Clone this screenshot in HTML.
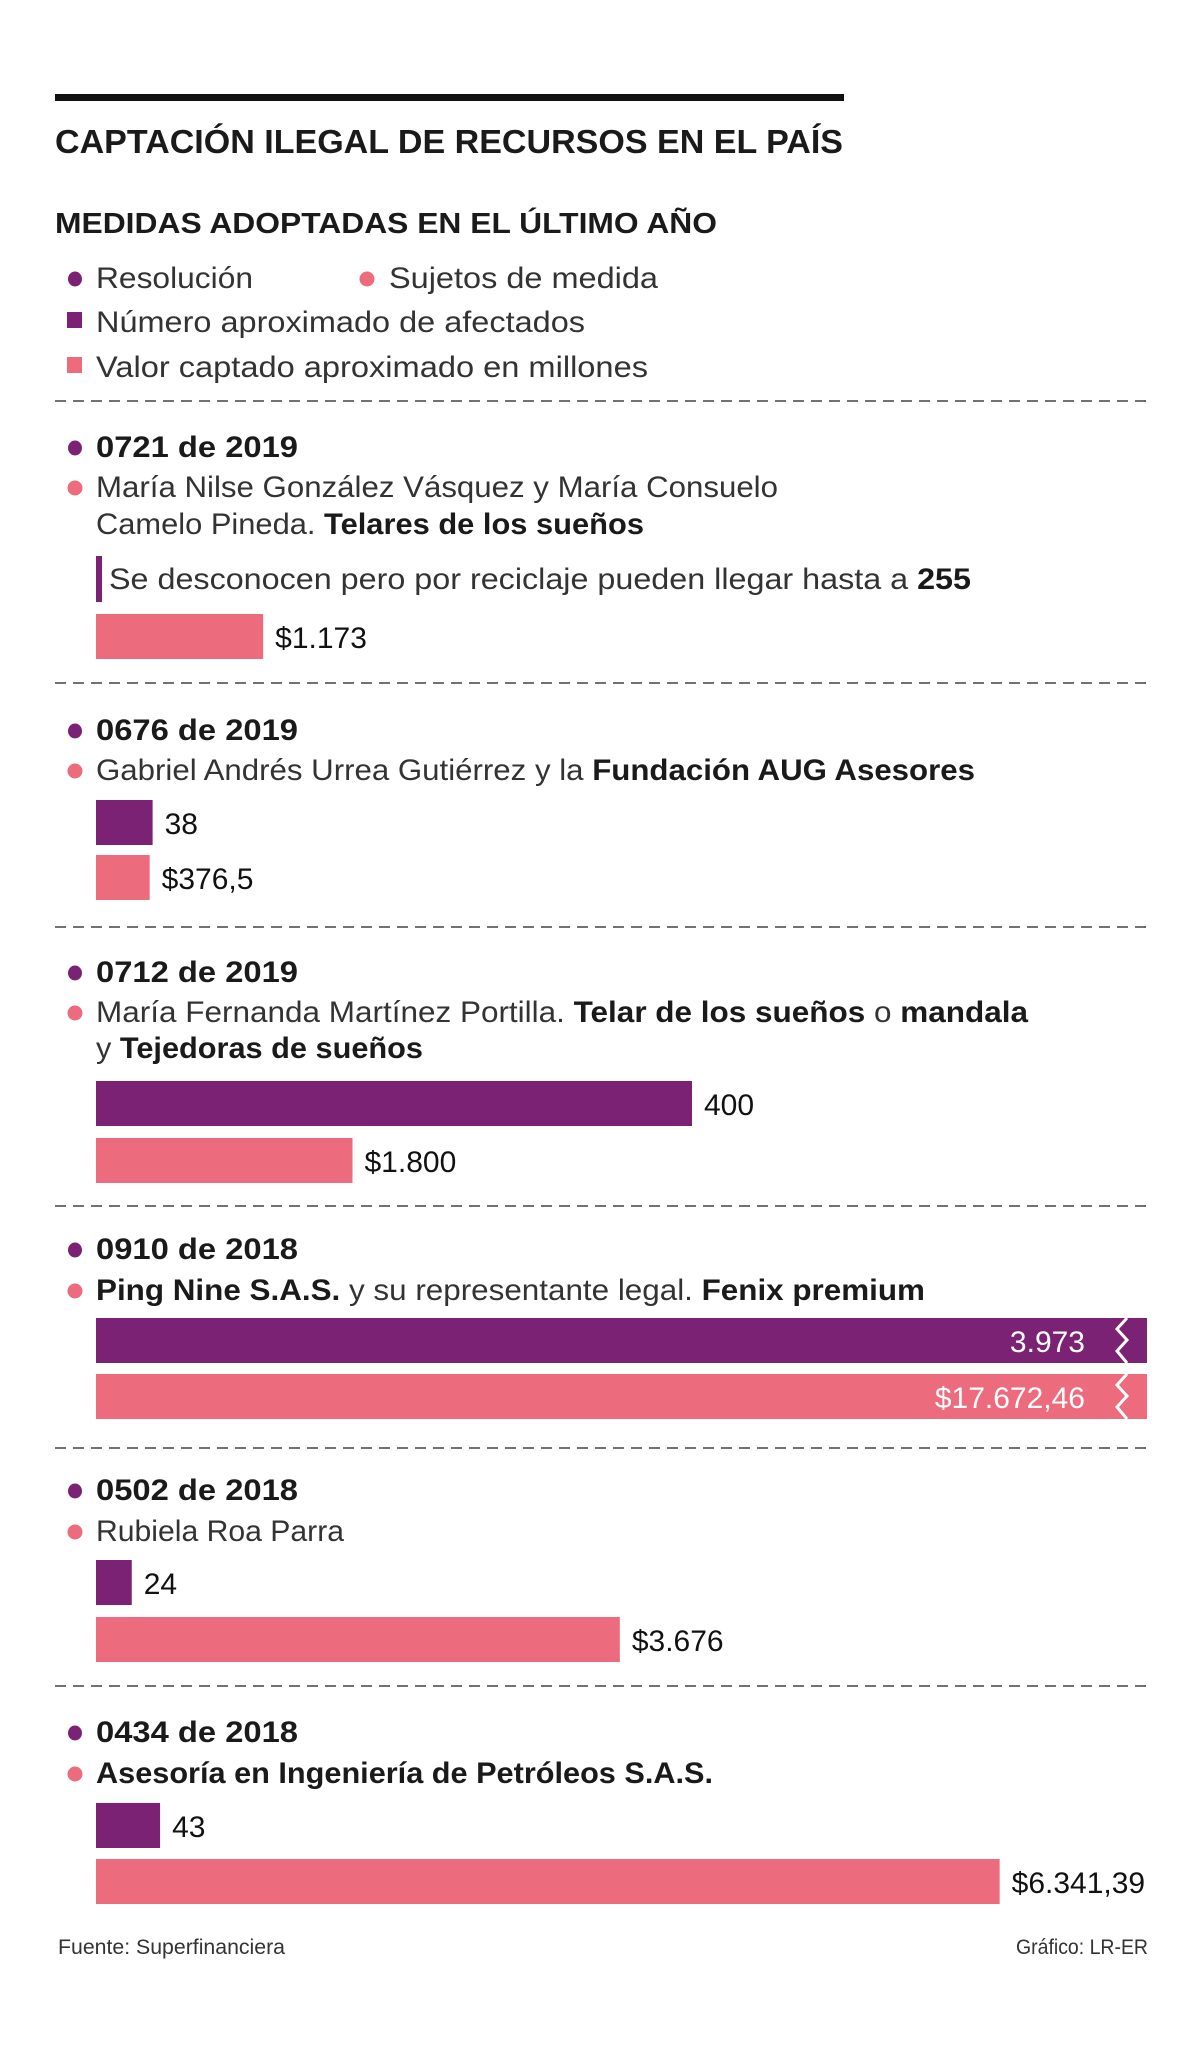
<!DOCTYPE html>
<html><head><meta charset="utf-8"><style>
html,body{margin:0;padding:0;background:#fff}
svg{display:block}
text{font-family:"Liberation Sans",sans-serif;fill:#1a1a1a}
.b{font-weight:bold}
.n{font-weight:normal;fill:#333}
</style></head><body>
<svg id="chart" width="1200" height="2046" viewBox="0 0 1200 2046" xmlns="http://www.w3.org/2000/svg">
<rect x="0" y="0" width="1200" height="2046" fill="#fff"/>
<rect x="55" y="94" width="789" height="7" fill="#111"/>
<text class="b" x="55" y="153" font-size="33" textLength="788" lengthAdjust="spacingAndGlyphs">CAPTACIÓN ILEGAL DE RECURSOS EN EL PAÍS</text>
<text class="b" x="55" y="233" font-size="29" textLength="662" lengthAdjust="spacingAndGlyphs">MEDIDAS ADOPTADAS EN EL ÚLTIMO AÑO</text>

<g>
<ellipse cx="75" cy="279" rx="7" ry="7.5" fill="#7b2275"/>
<text class="n" x="96" y="288" font-size="30" textLength="157" lengthAdjust="spacingAndGlyphs">Resolución</text>
<ellipse cx="367" cy="279" rx="7.5" ry="7.5" fill="#ec6b7c"/>
<text class="n" x="389" y="288" font-size="30" textLength="269" lengthAdjust="spacingAndGlyphs">Sujetos de medida</text>
<rect x="67" y="312" width="15" height="16" fill="#7b2275"/>
<text class="n" x="96" y="332" font-size="30" textLength="489" lengthAdjust="spacingAndGlyphs">Número aproximado de afectados</text>
<rect x="67" y="357" width="15" height="16" fill="#ec6b7c"/>
<text class="n" x="96" y="377" font-size="30" textLength="552" lengthAdjust="spacingAndGlyphs">Valor captado aproximado en millones</text>
</g>

<g id="dividers" stroke="#444" stroke-width="1.6" stroke-dasharray="11 7">
<line x1="55" y1="401" x2="1151" y2="401"/>
<line x1="55" y1="683" x2="1151" y2="683"/>
<line x1="55" y1="927" x2="1151" y2="927"/>
<line x1="55" y1="1206" x2="1151" y2="1206"/>
<line x1="55" y1="1448" x2="1151" y2="1448"/>
<line x1="55" y1="1686" x2="1151" y2="1686"/>
</g>

<g>
<ellipse cx="75" cy="448" rx="7" ry="7.5" fill="#7b2275"/>
<text class="b" x="96" y="457" font-size="30" textLength="202" lengthAdjust="spacingAndGlyphs">0721 de 2019</text>
<ellipse cx="75" cy="488" rx="7.5" ry="7.5" fill="#ec6b7c"/>
<text class="n" x="96" y="497" font-size="30" textLength="682" lengthAdjust="spacingAndGlyphs">María Nilse González Vásquez y María Consuelo</text>
<text x="96" y="534" font-size="30" textLength="548" lengthAdjust="spacingAndGlyphs"><tspan class="n">Camelo Pineda. </tspan><tspan class="b">Telares de los sueños</tspan></text>
<text x="109" y="589" font-size="30" textLength="862" lengthAdjust="spacingAndGlyphs"><tspan class="n">Se desconocen pero por reciclaje pueden llegar hasta a </tspan><tspan class="b">255</tspan></text>
</g>
<g>
<ellipse cx="75" cy="731" rx="7" ry="7.5" fill="#7b2275"/>
<text class="b" x="96" y="740" font-size="30" textLength="202" lengthAdjust="spacingAndGlyphs">0676 de 2019</text>
<ellipse cx="75" cy="771" rx="7.5" ry="7.5" fill="#ec6b7c"/>
<text x="96" y="780" font-size="30" textLength="879" lengthAdjust="spacingAndGlyphs"><tspan class="n">Gabriel Andrés Urrea Gutiérrez y la </tspan><tspan class="b">Fundación AUG Asesores</tspan></text>
</g>
<g>
<ellipse cx="75" cy="973" rx="7" ry="7.5" fill="#7b2275"/>
<text class="b" x="96" y="982" font-size="30" textLength="202" lengthAdjust="spacingAndGlyphs">0712 de 2019</text>
<ellipse cx="75" cy="1013" rx="7.5" ry="7.5" fill="#ec6b7c"/>
<text x="96" y="1022" font-size="30" textLength="932" lengthAdjust="spacingAndGlyphs"><tspan class="n">María Fernanda Martínez Portilla. </tspan><tspan class="b">Telar de los sueños</tspan><tspan class="n"> o </tspan><tspan class="b">mandala</tspan></text>
<text x="96" y="1058" font-size="30" textLength="327" lengthAdjust="spacingAndGlyphs"><tspan class="n">y </tspan><tspan class="b">Tejedoras de sueños</tspan></text>
</g>
<g>
<ellipse cx="75" cy="1250" rx="7" ry="7.5" fill="#7b2275"/>
<text class="b" x="96" y="1259" font-size="30" textLength="202" lengthAdjust="spacingAndGlyphs">0910 de 2018</text>
<ellipse cx="75" cy="1291" rx="7.5" ry="7.5" fill="#ec6b7c"/>
<text x="96" y="1300" font-size="30" textLength="829" lengthAdjust="spacingAndGlyphs"><tspan class="b">Ping Nine S.A.S.</tspan><tspan class="n"> y su representante legal. </tspan><tspan class="b">Fenix premium</tspan></text>
</g>
<g>
<ellipse cx="75" cy="1491" rx="7" ry="7.5" fill="#7b2275"/>
<text class="b" x="96" y="1500" font-size="30" textLength="202" lengthAdjust="spacingAndGlyphs">0502 de 2018</text>
<ellipse cx="75" cy="1532" rx="7.5" ry="7.5" fill="#ec6b7c"/>
<text class="n" x="96" y="1541" font-size="30" textLength="248" lengthAdjust="spacingAndGlyphs">Rubiela Roa Parra</text>
</g>
<g>
<ellipse cx="75" cy="1733" rx="7" ry="7.5" fill="#7b2275"/>
<text class="b" x="96" y="1742" font-size="30" textLength="202" lengthAdjust="spacingAndGlyphs">0434 de 2018</text>
<ellipse cx="75" cy="1774" rx="7.5" ry="7.5" fill="#ec6b7c"/>
<text class="b" x="96" y="1783" font-size="30" textLength="617" lengthAdjust="spacingAndGlyphs">Asesoría en Ingeniería de Petróleos S.A.S.</text>
</g>

<g id="bars"></g>

<text class="n" x="58" y="1954" font-size="21" textLength="227" lengthAdjust="spacingAndGlyphs">Fuente: Superfinanciera</text>
<text class="n" x="1016" y="1954" font-size="21" textLength="132" lengthAdjust="spacingAndGlyphs">Gráfico: LR-ER</text>
</svg>
<script>
const resoluciones = ["0721 de 2019","0676 de 2019","0712 de 2019","0910 de 2018","0502 de 2018","0434 de 2018"];
const afectados = [null, 38, 400, 3973, 24, 43];
const afectadosLabels = ["255","38","400","3.973","24","43"];
const valores = [1173, 376.5, 1800, 17672.46, 3676, 6341.39];
const valoresLabels = ["$1.173","$376,5","$1.800","$17.672,46","$3.676","$6.341,39"];

// layout (not data): row tops for each section
const layoutPurpleTop = [556, 800, 1081, 1318, 1560, 1803];
const layoutPinkTop = [614, 855, 1138, 1374, 1617, 1859];

const X0 = 96, XMAX = 1051, BAR_H = 45;
const xAfectados = v => v * 1.49;
const xValores = v => v * 0.1425;
const NS = "http://www.w3.org/2000/svg";
const g = document.getElementById("bars");

function drawBar(v, scale, top, color, label, name) {
  let w = scale(v), clipped = false;
  if (w > XMAX) { w = XMAX; clipped = true; }
  const r = document.createElementNS(NS, "rect");
  r.setAttribute("x", X0); r.setAttribute("y", top);
  r.setAttribute("width", w); r.setAttribute("height", BAR_H);
  r.setAttribute("fill", color);
  
  
  g.appendChild(r);
  const t = document.createElementNS(NS, "text");
  t.setAttribute("y", top + 34);
  t.setAttribute("font-size", "30");
  t.textContent = label;
  
  
  if (clipped) {
    t.setAttribute("x", X0 + w - 62);
    t.setAttribute("text-anchor", "end");
    t.setAttribute("style", "fill:#fff;font-weight:normal");
    const z = document.createElementNS(NS, "polyline");
    const zx = X0 + w - 30;
    z.setAttribute("points", `${zx+10},${top} ${zx},${top+11} ${zx+10},${top+22} ${zx},${top+33} ${zx+10},${top+45}`);
    z.setAttribute("fill", "none"); z.setAttribute("stroke", "#fff"); z.setAttribute("stroke-width", "3");
    
    
    g.appendChild(z);
  } else {
    t.setAttribute("x", X0 + w + 12);
    t.setAttribute("style", "font-weight:normal;fill:#111");
  }
  g.appendChild(t);
}

for (let i = 0; i < resoluciones.length; i++) {
  if (afectados[i] === null) {
    const r = document.createElementNS(NS, "rect");
    r.setAttribute("x", X0); r.setAttribute("y", layoutPurpleTop[i]);
    r.setAttribute("width", 6); r.setAttribute("height", 46);
    r.setAttribute("fill", "#7b2275");
    
    
    g.appendChild(r);
  } else {
    drawBar(afectados[i], xAfectados, layoutPurpleTop[i], "#7b2275", afectadosLabels[i], "afectados-bar");
  }
  drawBar(valores[i], xValores, layoutPinkTop[i], "#ec6b7c", valoresLabels[i], "valor-bar");
}
</script>
</body></html>
